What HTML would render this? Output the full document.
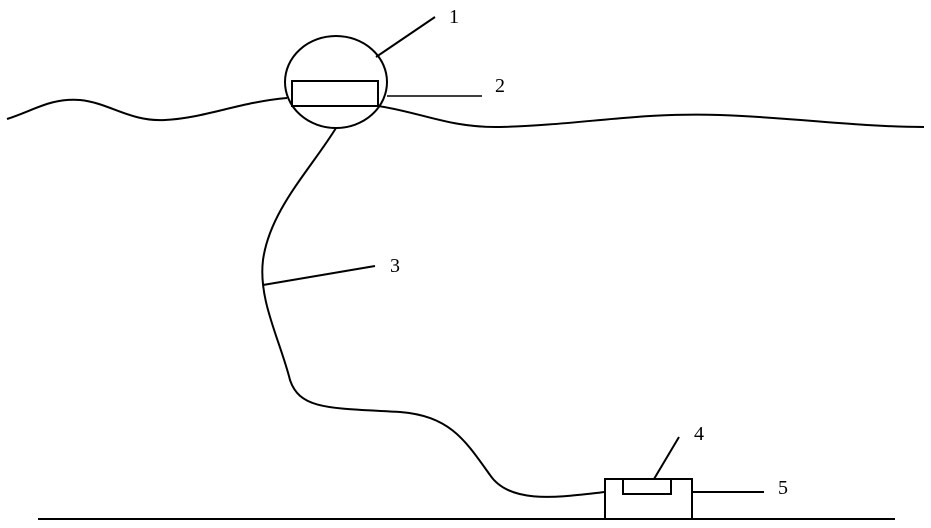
<!DOCTYPE html>
<html><head><style>body{margin:0;background:#fff}svg{display:block}</style></head><body>
<svg width="931" height="528" viewBox="0 0 931 528" xmlns="http://www.w3.org/2000/svg" fill="none" stroke="#000" stroke-width="2">
<path d="M7,119 C35,110 50,98 80,100 C110,103 130,122 165,120 C205,118 240,102 287,98"/>
<path d="M378,106 C420,112 450,128 500,127 C580,125 640,112 720,115 C800,118 860,127 924,127"/>
<ellipse cx="336" cy="82" rx="51" ry="46"/>
<rect x="292" y="81" width="86" height="25"/>
<line x1="376" y1="57" x2="435" y2="17"/>
<line x1="387" y1="96" x2="482" y2="96" stroke-width="1.5"/>
<path d="M336,128 C310,170 270,210 263,260 C258,300 280,340 290,380 C300,410 330,408 400,412 C450,416 465,440 490,475 C510,505 560,497 605,492"/>
<line x1="263" y1="285" x2="375" y2="266"/>
<rect x="605" y="479" width="87" height="40"/>
<rect x="623" y="479" width="48" height="15"/>
<line x1="654" y1="479" x2="679" y2="437"/>
<line x1="692" y1="492" x2="764" y2="492"/>
<line x1="38" y1="519" x2="895" y2="519"/>
<g fill="#000" stroke="none" font-family="Liberation Serif, serif" font-size="20">
<text x="449" y="23">1</text><text x="495" y="92">2</text><text x="390" y="272">3</text><text x="694" y="440">4</text><text x="778" y="494">5</text>
</g>
</svg>
</body></html>
